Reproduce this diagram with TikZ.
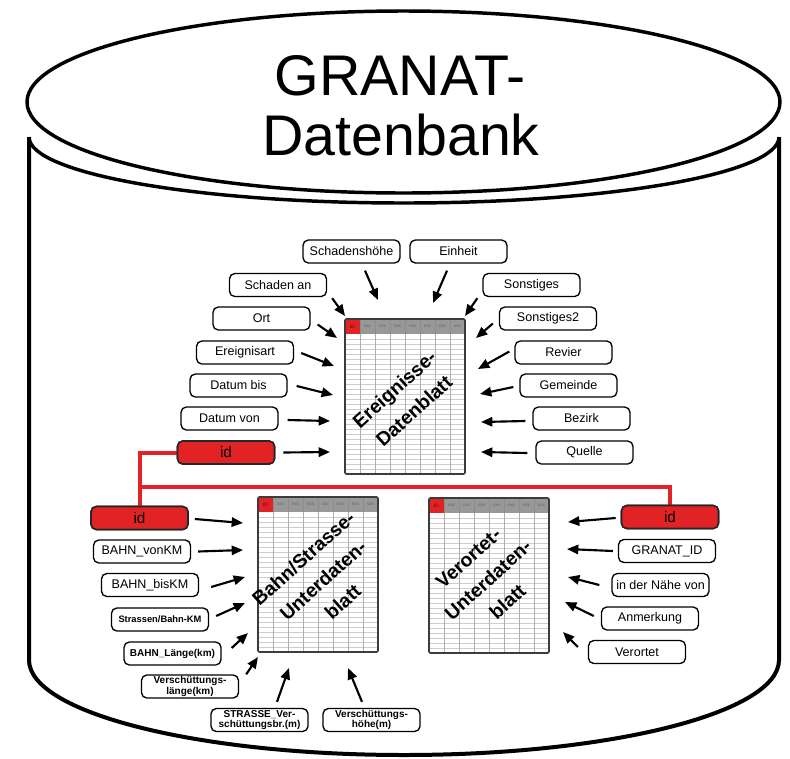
\documentclass[tikz,border=0pt]{standalone}
\usepackage{fontspec}
\setmainfont{Liberation Sans}
\usetikzlibrary{arrows.meta}

\definecolor{idred}{RGB}{226,35,38}
\definecolor{headgray}{RGB}{152,152,152}
\definecolor{gridgray}{RGB}{205,205,205}
\definecolor{framegray}{RGB}{60,60,60}

\tikzset{
  title/.style={font=\fontsize{43}{45}\selectfont, inner sep=0pt, anchor=base},
  lbl/.style={draw=black, line width=1pt, rounded corners=4pt, fill=white,
    minimum width=72.75pt, minimum height=17.25pt, inner sep=1pt, align=center,
    font=\fontsize{9.4}{11}\selectfont},
  lblb/.style={lbl, font=\fontsize{7.5}{7.7}\selectfont\bfseries},
  idbox/.style={lbl, fill=idred, draw=black!85, line width=1.2pt,
    font=\fontsize{11.5}{12}\selectfont},
  arr/.style={line width=1.6pt, -{Triangle[length=8.5pt,width=7pt]}},
  redline/.style={idred, line width=3pt},
  hdr/.style={font=\fontsize{3.6}{4}\selectfont, text=black!60, inner sep=0pt},
  sheettitle/.style={font=\fontsize{14.5}{22}\selectfont\bfseries, align=center,
    rotate=42, inner sep=0pt},
}

% spreadsheet icon: #1 = name, top-left corner given by coordinate #1
\newcommand{\sheetgrid}[1]{%
  \begin{scope}[shift={(#1)}]
    \fill[white] (0,0) rectangle (120,155);
    \foreach \r in {20,25,...,150} \draw[gridgray, line width=0.5pt] (0,\r) -- (120,\r);
    \foreach \c in {15,30,...,105} \draw[gridgray!85!black, line width=0.5pt] (\c,15) -- (\c,155);
    \fill[headgray] (0,0) rectangle (120,15);
    \fill[idred] (0,0) rectangle (15,15);
    \foreach \c in {15,30,...,105} \draw[black!45, line width=0.3pt] (\c,0) -- (\c,15);
    \node[hdr, text=red!35!black] (#1-id) at (7.5,7.5) {ID};
    \foreach \k in {1,...,7} \node[hdr] (#1-h\k) at (7.5+15*\k,7.5) {xxx};
    \draw[framegray, line width=1.2pt, rounded corners=1pt] (0,0) rectangle (120,155);
  \end{scope}}

\begin{document}
\begin{tikzpicture}[x=0.75pt, y=-0.75pt]
\useasboundingbox (0,0) rectangle (790,758);

% ---------- database cylinder ----------
\draw[line width=3pt] (29,137) -- (29,660)
   arc[start angle=180, end angle=0, x radius=375, y radius=95] -- (779,137);
\draw[line width=2.6pt] (29,137) arc[start angle=180, end angle=0, x radius=375, y radius=66];
\draw[line width=2.6pt, fill=white] (403.5,102) ellipse [x radius=376.5, y radius=91];

\node[title] (title1) at (400,95) {GRANAT-};
\node[title] (title2) at (401,155) {Datenbank};

% ---------- spreadsheets ----------
\coordinate (ev) at (345,319);
\coordinate (bs) at (258,497);
\coordinate (vo) at (429,498);
\sheetgrid{ev}
\sheetgrid{bs}
\sheetgrid{vo}
\node[sheettitle] (evtitle) at (404,400) {Ereignisse-\\Datenblatt};
\node[sheettitle] (bstitle) at (323,580) {Bahn/Strasse-\\Unterdaten-\\blatt};
\node[sheettitle] (votitle) at (488,580) {Verortet-\\Unterdaten-\\blatt};

% ---------- red key links ----------
\coordinate (j1) at (139.5,487);
\node[idbox] (idA) at (226,452.5) {id};
\node[idbox] (idB) at (139.5,518) {id};
\node[idbox] (idC) at (670,517) {id};
\draw[redline] (idA.west) -| (idB.north);
\draw[redline] (j1) -| (idC.north);
\node[idbox] at (idA) {id};
\node[idbox] at (idB) {id};
\node[idbox] at (idC) {id};

% ---------- fields of the event sheet ----------
\node[lbl] (schh) at (351.5,251.5) {Schadenshöhe};
\node[lbl] (einh) at (458.5,251.5) {Einheit};
\node[lbl] (scha) at (278,285) {Schaden an};
\node[lbl] (sons) at (531.5,285) {Sonstiges};
\node[lbl] (ort)  at (261.5,318.5) {Ort};
\node[lbl] (son2) at (548,318.5) {Sonstiges2};
\node[lbl] (erea) at (245,352.5) {Ereignisart};
\node[lbl] (revi) at (563.5,352.5) {Revier};
\node[lbl] (dbis) at (238.5,385.5) {Datum bis};
\node[lbl] (geme) at (568.5,385.5) {Gemeinde};
\node[lbl] (dvon) at (229.5,418.5) {Datum von};
\node[lbl] (bezi) at (581.5,418.5) {Bezirk};
\node[lbl] (quel) at (584.5,452.5) {Quelle};

\coordinate (t1)  at (378,300);
\coordinate (t2)  at (433,303);
\coordinate (t3)  at (345,316);
\coordinate (t4)  at (465,316);
\coordinate (t5)  at (337,338);
\coordinate (t6)  at (476,338);
\coordinate (t7)  at (334,366);
\coordinate (t8)  at (478,369);
\coordinate (t9)  at (333,395);
\coordinate (t10) at (480,394);
\coordinate (t11) at (330,421);
\coordinate (t12) at (481,422);
\coordinate (t13) at (330,452);
\coordinate (t14) at (481,452);

\draw[arr] ([shift={(13.5,7)}]schh.south) -- (t1);
\draw[arr] ([shift={(-11.5,7)}]einh.south) -- (t2);
\draw[arr] ([shift={(5,1)}]scha.south east) -- (t3);
\draw[arr] ([shift={(-5,1)}]sons.south west) -- (t4);
\draw[arr] ([shift={(7,6)}]ort.east) -- (t5);
\draw[arr] ([shift={(-6,5)}]son2.west) -- (t6);
\draw[arr] ([shift={(7,0.5)}]erea.east) -- (t7);
\draw[arr] ([shift={(-5,-1)}]revi.west) -- (t8);
\draw[arr] ([shift={(9,0.5)}]dbis.east) -- (t9);
\draw[arr] ([shift={(-6,1.5)}]geme.west) -- (t10);
\draw[arr] ([shift={(9,1.5)}]dvon.east) -- (t11);
\draw[arr] ([shift={(-7,2.5)}]bezi.west) -- (t12);
\draw[arr] ([shift={(8,0)}]idA.east) -- (t13);
\draw[arr] ([shift={(-8,0.5)}]quel.west) -- (t14);

% ---------- fields of the track/road sheet ----------
\node[lbl]  (bvon) at (142,551.5) {BAHN\_vonKM};
\node[lbl]  (bbis) at (150,585) {BAHN\_bisKM};
\node[lblb, font=\fontsize{7}{7.5}\selectfont\bfseries] (skm) at (160,619.5) {Strassen/Bahn-KM};
\node[lblb] (blen) at (172.5,653.5) {BAHN\_Länge(km)};
\node[lblb] (vlen) at (190,686.5) {Verschüttungs-\\länge(km)};
\node[lblb] (svb)  at (259.5,720) {STRASSE\_Ver-\\schüttungsbr.(m)};
\node[lblb] (vhoe) at (371.5,720) {Verschüttungs-\\höhe(m)};

\coordinate (b1) at (243,523);
\coordinate (b2) at (243,550);
\coordinate (b3) at (245,577);
\coordinate (b4) at (245,603);
\coordinate (b5) at (248,633);
\coordinate (b6) at (258,657);
\coordinate (b7) at (289,668);
\coordinate (b8) at (348,668);

\draw[arr] ([shift={(6,1)}]idB.east) -- (b1);
\draw[arr] ([shift={(7,0)}]bvon.east) -- (b2);
\draw[arr] ([shift={(12,2)}]bbis.east) -- (b3);
\draw[arr] ([shift={(7,-3.5)}]skm.east) -- (b4);
\draw[arr] ([shift={(10,-5.5)}]blen.east) -- (b5);
\draw[arr] ([shift={(7,0)}]vlen.north east) -- (b6);
\draw[arr] ([shift={(17.5,-6)}]svb.north) -- (b7);
\draw[arr] ([shift={(-9.5,-6)}]vhoe.north) -- (b8);

% ---------- fields of the location sheet ----------
\node[lbl] (gid)  at (667,551) {GRANAT\_ID};
\node[lbl] (nahe) at (660.5,585) {in der Nähe von};
\node[lbl] (anm)  at (650,618.5) {Anmerkung};
\node[lbl] (vort) at (637,652) {Verortet};

\coordinate (r1) at (568,522);
\coordinate (r2) at (567,549);
\coordinate (r3) at (568,577);
\coordinate (r4) at (565,602);
\coordinate (r5) at (563,632);

\draw[arr] ([shift={(-5,1)}]idC.west) -- (r1);
\draw[arr] ([shift={(-5,0)}]gid.west) -- (r2);
\draw[arr] ([shift={(-12,0)}]nahe.west) -- (r3);
\draw[arr] ([shift={(-7,-2.5)}]anm.west) -- (r4);
\draw[arr] ([shift={(-10,-5)}]vort.west) -- (r5);

\end{tikzpicture}
\end{document}
